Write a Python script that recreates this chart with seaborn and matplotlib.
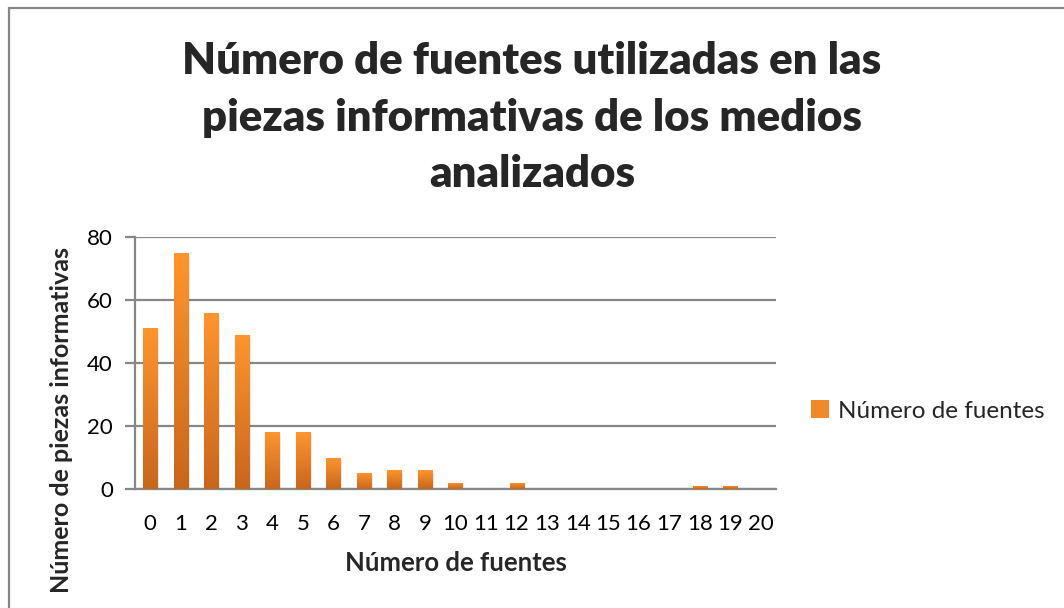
import numpy as np
import matplotlib
matplotlib.use("Agg")
import matplotlib.pyplot as plt
from matplotlib.colors import LinearSegmentedColormap
from matplotlib.patches import Patch, Rectangle
import seaborn as sns

# data
fuentes = [str(i) for i in range(21)]
piezas = [51, 75, 56, 49, 18, 18, 10, 5, 6, 6, 2, 0, 2, 0, 0, 0, 0, 0, 1, 1, 0]
y_ticks = [0, 20, 40, 60, 80]

title = "Número de fuentes utilizadas en las\npiezas informativas de los medios\nanalizados"
x_label = "Número de fuentes"
y_label = "Número de piezas informativas"
legend_label = "Número de fuentes"

GRID = "#878787"
TOP = "#FF952D"
BOTTOM = "#C8661C"

sns.set_theme(style="white")
plt.rcParams["font.family"] = ["Lato", "DejaVu Sans"]

fig = plt.figure(figsize=(10.64, 6.08), dpi=100)
ax = fig.add_axes([0.1269, 0.1957, 0.6024, 0.4145])

sns.barplot(x=fuentes, y=piezas, color=TOP, width=0.46, ax=ax, zorder=3)

# vertical gradient on each bar (light on top, darker at the base)
cmap = LinearSegmentedColormap.from_list("bar", [BOTTOM, TOP])
grad = np.linspace(0, 1, 256).reshape(-1, 1)
for p in ax.patches:
    x0, y0 = p.get_x(), p.get_y()
    w, h = p.get_width(), p.get_height()
    p.set_facecolor("none")
    p.set_edgecolor("none")
    p.set_linewidth(0)
    if h <= 0:
        continue
    # soft shadow behind the bar
    ax.add_patch(Rectangle((x0 + 0.06, y0 - 0.8), w, h, facecolor="#000000",
                           alpha=0.08, edgecolor="none", zorder=2))
    im = ax.imshow(grad, extent=[x0, x0 + w, y0, y0 + h], origin="lower",
                   aspect="auto", cmap=cmap, zorder=4)
    im.set_clip_path(p)

ax.set_xlim(-0.5, 20.5)
ax.set_ylim(0, 80)
ax.set_yticks(y_ticks)
ax.yaxis.grid(True, color=GRID, linewidth=1.6)
ax.set_axisbelow(True)

for side in ["top", "right"]:
    ax.spines[side].set_visible(False)
for side in ["left", "bottom"]:
    ax.spines[side].set_color(GRID)
    ax.spines[side].set_linewidth(1.6)

ax.tick_params(axis="y", which="major", left=True, length=7, width=1.6,
               color=GRID, labelsize=16, pad=9, labelcolor="black")
ax.tick_params(axis="x", bottom=False, labelsize=16, pad=12, labelcolor="black")

ax.set_xlabel(x_label, fontsize=18.5, fontweight="bold", va="center")
ax.set_ylabel(y_label, fontsize=18, fontweight="bold", va="center")
ax.xaxis.set_label_coords(0.5, -0.294)
ax.yaxis.set_label_coords(-0.114, 0.274)

fig.text(0.5, 0.806, title, ha="center", va="center", fontsize=31.5,
         fontweight="heavy", linespacing=1.5)

handle = Patch(facecolor="#F08A28", edgecolor="none")
fig.legend([handle], [legend_label], loc="center left",
           bbox_to_anchor=(0.762, 0.324), frameon=False, fontsize=17.5,
           handlelength=0.75, handleheight=0.75, handletextpad=0.35,
           borderpad=0, borderaxespad=0)

# outer chart border
fig.patches.append(Rectangle((9 / 1064, -0.05), 1.2, 1 - 8 / 608 + 0.05,
                             transform=fig.transFigure, fill=False,
                             edgecolor=GRID, linewidth=1.6))

fig.savefig("out.png", dpi=100)
